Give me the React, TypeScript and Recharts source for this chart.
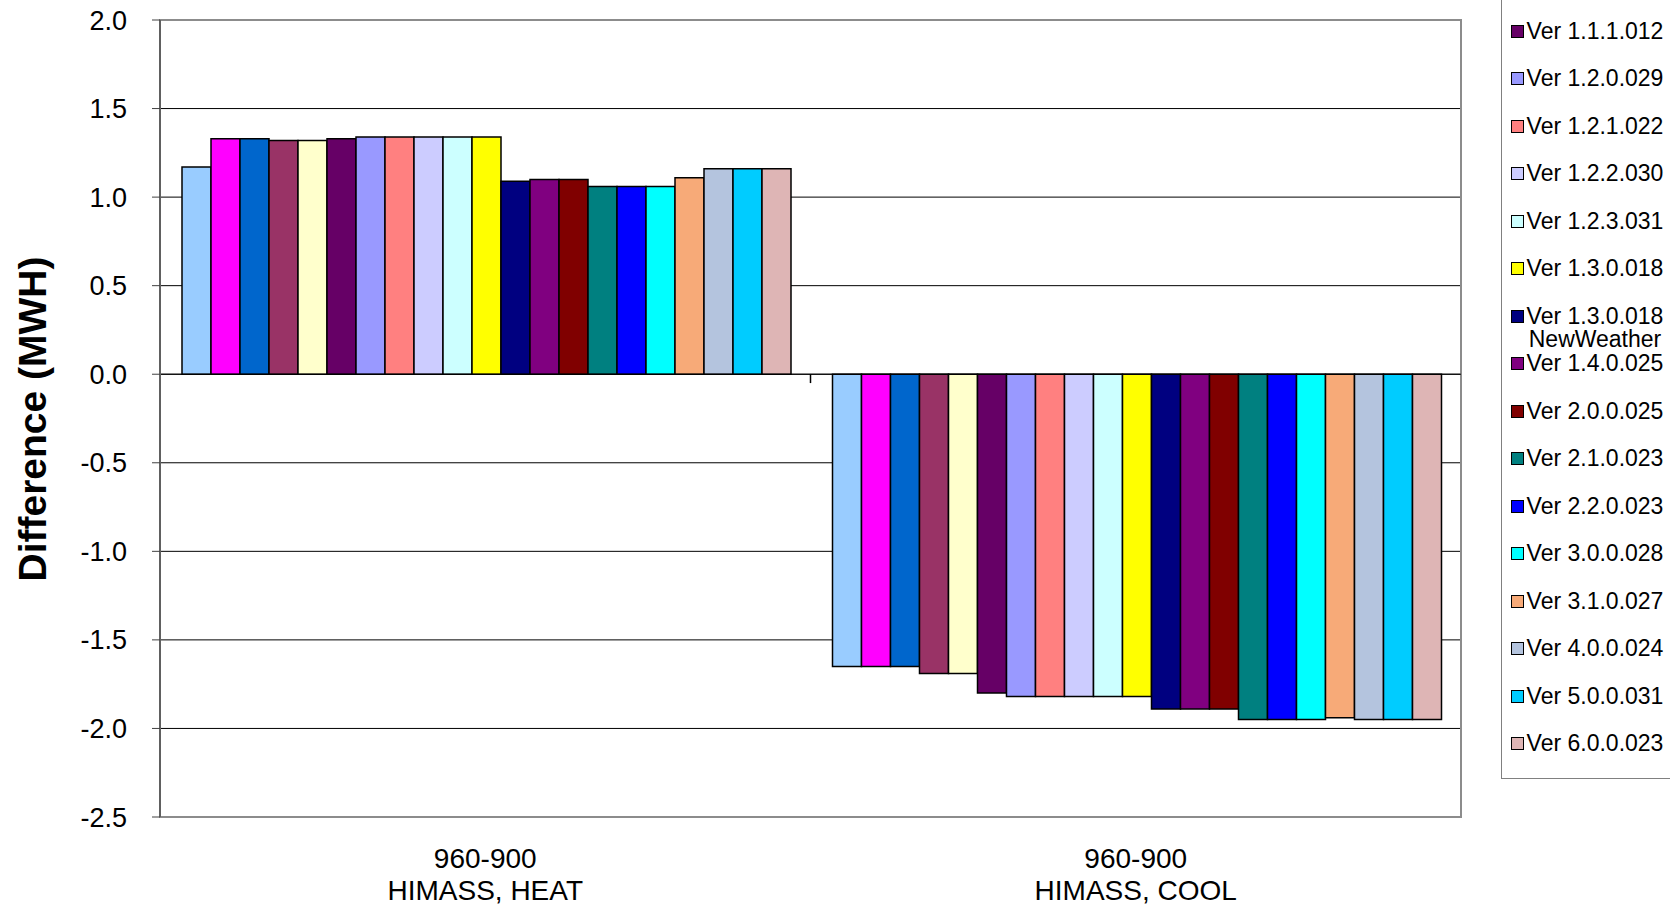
import React from 'react';
import { BarChart, Bar, XAxis, YAxis, CartesianGrid, Legend, ReferenceArea, ReferenceLine } from 'recharts';

const FONT = '"Liberation Sans", Arial, sans-serif';

const categories = ['960-900\nHIMASS, HEAT', '960-900\nHIMASS, COOL'];

const versionNames = [
  'Ver 1.0.0.023', 'Ver 1.0.1.037', 'Ver 1.0.2.008', 'Ver 1.0.3.019', 'Ver 1.1.0.020',
  'Ver 1.1.1.012', 'Ver 1.2.0.029', 'Ver 1.2.1.022', 'Ver 1.2.2.030', 'Ver 1.2.3.031',
  'Ver 1.3.0.018', 'Ver 1.3.0.018 NewWeather', 'Ver 1.4.0.025', 'Ver 2.0.0.025', 'Ver 2.1.0.023',
  'Ver 2.2.0.023', 'Ver 3.0.0.028', 'Ver 3.1.0.027', 'Ver 4.0.0.024', 'Ver 5.0.0.031',
  'Ver 6.0.0.023',
];

const versionColors = [
  '#99CCFF', '#FF00FF', '#0066CC', '#993366', '#FFFFCC',
  '#660066', '#9999FF', '#FF8080', '#CCCCFF', '#CCFFFF',
  '#FFFF00', '#000080', '#800080', '#800000', '#008080',
  '#0000FF', '#00FFFF', '#F7AA78', '#B4C4DE', '#00CCFF',
  '#DEB5B5',
];

const heatValues = [
  1.17, 1.33, 1.33, 1.32, 1.32, 1.33, 1.34, 1.34, 1.34, 1.34, 1.34,
  1.09, 1.10, 1.10, 1.06, 1.06, 1.06, 1.11, 1.16, 1.16, 1.16,
];

const coolValues = [
  -1.65, -1.65, -1.65, -1.69, -1.69, -1.80, -1.82, -1.82, -1.82, -1.82, -1.82,
  -1.89, -1.89, -1.89, -1.95, -1.95, -1.95, -1.94, -1.95, -1.95, -1.95,
];

const yTicks = [-2.5, -2.0, -1.5, -1.0, -0.5, 0.0, 0.5, 1.0, 1.5, 2.0];

// the first legend entries sit above the top of the frame in the original
const LEGEND_HIDDEN = 5;

const chartData = categories.map((category, ci) => {
  const row: Record<string, string | number> = { category };
  const vals = ci === 0 ? heatValues : coolValues;
  versionNames.forEach((_, i) => {
    row[`v${i}`] = vals[i];
  });
  return row;
});

const CategoryTick = (props: any) => {
  const { x, y, payload } = props;
  const lines = String(payload.value).split('\n');
  return (
    <text x={x} y={y} textAnchor="middle" fill="#000" fontSize={28} fontFamily={FONT}>
      {lines.map((line, i) => (
        <tspan key={i} x={x} dy={i === 0 ? 51 : 32}>{line}</tspan>
      ))}
    </text>
  );
};

const ITEM_H = 47.5;

const VersionLegend = (props: any) => {
  const items = props.payload || [];
  return (
    <div style={{
      position: 'relative',
      width: 220,
      height: items.length * ITEM_H + 24,
      border: '1px solid #808080',
      background: '#fff',
      boxSizing: 'border-box',
      fontFamily: FONT,
    }}>
      {items.map((entry: any, i: number) => (i < LEGEND_HIDDEN ? null : (
        <div key={i} style={{
          position: 'absolute',
          left: 9,
          top: 12 + i * ITEM_H,
          height: ITEM_H,
          display: 'flex',
          alignItems: 'flex-start',
        }}>
          <div style={{
            width: 13,
            height: 13,
            marginTop: 17,
            background: entry.color,
            border: '1.5px solid #000',
            boxSizing: 'border-box',
            flex: 'none',
          }} />
          <div style={{
            width: 140,
            marginLeft: 1,
            paddingTop: 12,
            fontSize: 23,
            lineHeight: '23px',
            color: '#000',
            textAlign: 'center',
          }}>{entry.value}</div>
        </div>
      )))}
    </div>
  );
};

const App: React.FC = () => {
  return (
    <div style={{
      position: 'fixed',
      top: 0,
      left: 0,
      width: 1670,
      height: 908,
      overflow: 'hidden',
      background: '#fff',
    }}>
      <BarChart
        width={1670}
        height={908}
        data={chartData}
        margin={{ top: 20, right: 209, bottom: 0, left: 0 }}
        barCategoryGap={22}
        barGap={0}
      >
        <CartesianGrid vertical={false} stroke="#000" strokeWidth={1} />
        <ReferenceArea y1={-2.5} y2={2} fill="none" stroke="#8c8c8c" strokeWidth={2} ifOverflow="visible" />
        <XAxis
          dataKey="category"
          height={91}
          interval={0}
          tickLine={false}
          tickSize={0}
          tickMargin={0}
          axisLine={{ stroke: '#8c8c8c', strokeWidth: 2 }}
          tick={<CategoryTick />}
        />
        <YAxis
          width={160}
          domain={[-2.5, 2]}
          ticks={yTicks}
          interval={0}
          tickSize={8}
          tickMargin={25}
          tickFormatter={(v: number) => v.toFixed(1)}
          axisLine={{ stroke: '#606060', strokeWidth: 2 }}
          tickLine={{ stroke: '#404040', strokeWidth: 1 }}
          tick={{ fill: '#000', fontSize: 27, fontFamily: FONT }}
          label={{
            content: () => (
              <text
                x={32}
                y={419}
                transform="rotate(-90 32 419)"
                textAnchor="middle"
                dominantBaseline="central"
                fontSize={39}
                fontWeight="bold"
                fontFamily={FONT}
                fill="#000"
              >
                Difference (MWH)
              </text>
            ),
          }}
        />
        <ReferenceLine y={0} stroke="#000" strokeWidth={1} />
        <ReferenceLine
          position="start"
          segment={[{ x: categories[1], y: 0 }, { x: categories[1], y: -0.05 }]}
          stroke="#000"
          strokeWidth={1.5}
        />
        <Legend
          layout="vertical"
          align="center"
          verticalAlign="middle"
          content={<VersionLegend />}
          wrapperStyle={{ left: 1501, top: -243, width: 220, height: 'auto' }}
        />
        {versionNames.map((name, i) => (
          <Bar
            key={name}
            dataKey={`v${i}`}
            name={name}
            fill={versionColors[i]}
            stroke="#000"
            strokeWidth={1.5}
            isAnimationActive={false}
          />
        ))}
      </BarChart>
    </div>
  );
};

export default App;
